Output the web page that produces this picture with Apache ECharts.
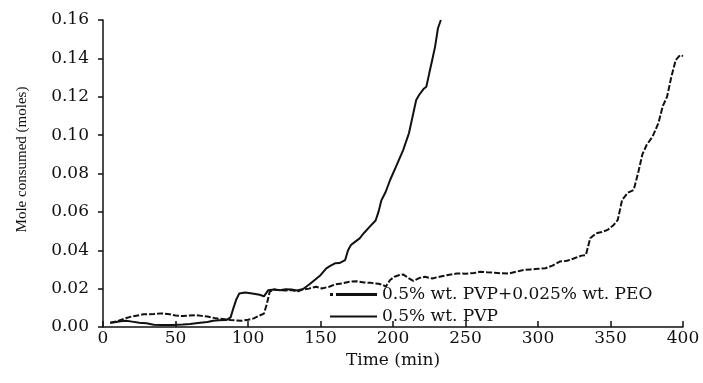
<!DOCTYPE html>
<html>
<head>
<meta charset="utf-8">
<script src="https://cdn.jsdelivr.net/npm/echarts@6/dist/echarts.min.js"></script>
<style>html,body{margin:0;padding:0;background:#fff}#c{width:703px;height:383px}</style>
</head>
<body>
<div id="c"></div>
<script>
// Time (min) and moles consumed
const pvpTime = [5,8,12,16,20,25,30,35,40,48,55,60,67,72,76,80,85,88,90,92,94,98,103,108,111,114,118,122,126,130,134,138,142,146,150,154,157,160,163,167,169,171,174,177,180,184,188,190,192,195,198,202,207,211,214,216,218,221,223,225,227,229,231,233];
const pvpMoles = [0.0022,0.0025,0.0030,0.0032,0.0028,0.0022,0.0019,0.0012,0.0010,0.0010,0.0013,0.0016,0.0022,0.0026,0.0033,0.0035,0.0036,0.0050,0.0100,0.0145,0.0175,0.0180,0.0175,0.0168,0.0160,0.0192,0.0195,0.0192,0.0197,0.0195,0.0190,0.0198,0.0220,0.0245,0.0270,0.0306,0.0320,0.0332,0.0333,0.0349,0.0400,0.0427,0.0445,0.0462,0.0490,0.0523,0.0555,0.0600,0.0660,0.0705,0.0766,0.0835,0.0922,0.1010,0.1114,0.1183,0.1209,0.1240,0.1252,0.1322,0.1390,0.1460,0.1557,0.1600];

const peoTime = [5,10,15,20,28,35,40,46,50,55,60,64,68,72,78,84,88,92,96,100,104,108,111,113,115,118,122,126,130,134,138,142,147,151,156,160,165,170,175,180,185,190,193,195,198,201,204,207,211,214,218,222,227,232,237,244,250,256,260,265,270,275,280,285,290,295,300,305,310,315,320,325,330,333,336,340,344,348,352,355,358,362,366,369,372,375,379,383,386,389,392,395,398,400];
const peoMoles = [0.0022,0.0030,0.0045,0.0055,0.0066,0.0068,0.0071,0.0066,0.0060,0.0057,0.0060,0.0062,0.0058,0.0055,0.0045,0.0040,0.0036,0.0034,0.0033,0.0038,0.0045,0.0060,0.0070,0.0120,0.0184,0.0196,0.0192,0.0190,0.0193,0.0185,0.0196,0.0200,0.0210,0.0201,0.0210,0.0222,0.0227,0.0236,0.0238,0.0232,0.0230,0.0225,0.0219,0.0210,0.0245,0.0262,0.0270,0.0274,0.0253,0.0240,0.0255,0.0262,0.0253,0.0262,0.0270,0.0279,0.0278,0.0281,0.0288,0.0285,0.0283,0.0280,0.0279,0.0288,0.0297,0.0300,0.0303,0.0306,0.0320,0.0341,0.0345,0.0358,0.0372,0.0375,0.0462,0.0488,0.0495,0.0506,0.0530,0.0558,0.0662,0.0700,0.0714,0.0801,0.0900,0.0950,0.0992,0.1062,0.1150,0.1200,0.1305,0.1391,0.1417,0.1412];

const seriesNames = ['0.5% wt. PVP+0.025% wt. PEO', '0.5% wt. PVP'];
const xTitle = 'Time (min)';
const yTitle = 'Mole consumed (moles)';

const pair = (xs, ys) => xs.map((x, i) => [x, ys[i]]);
const serif = 'DejaVu Serif';
const ink = '#111';

const chart = echarts.init(document.getElementById('c'), null, {renderer: 'canvas'});
chart.setOption({
  animation: false,
  backgroundColor: '#fff',
  grid: {left: 103, right: 20, top: 20, bottom: 56},
  legend: {
    orient: 'vertical',
    left: 325,
    top: 281,
    itemWidth: 47,
    itemHeight: 14,
    itemGap: 5,
    textStyle: {fontFamily: serif, fontSize: 17, color: ink},
    data: [
      {name: seriesNames[0], icon: 'path://M0,0H3V3H0Z M6,0H47V3H6Z', itemStyle: {color: ink}},
      {name: seriesNames[1], icon: 'path://M0,0H47V1.8H0Z', itemStyle: {color: ink}}
    ]
  },
  xAxis: {
    type: 'value',
    min: 0, max: 400, interval: 50,
    name: xTitle,
    nameLocation: 'middle',
    nameGap: 22,
    nameTextStyle: {fontFamily: serif, fontSize: 17, color: ink},
    axisLine: {lineStyle: {color: ink, width: 1.5}},
    axisTick: {inside: true, length: 6, lineStyle: {color: ink, width: 1.5}},
    axisLabel: {fontFamily: serif, fontSize: 17, color: ink, margin: 3},
    splitLine: {show: false}
  },
  yAxis: {
    type: 'value',
    min: 0, max: 0.16, interval: 0.02,
    name: yTitle,
    nameLocation: 'middle',
    nameGap: 73,
    nameTextStyle: {fontFamily: 'Liberation Serif', fontSize: 15, color: ink, padding: [0, 0, 0, 28]},
    axisLine: {show: true, lineStyle: {color: ink, width: 1.5}},
    axisTick: {show: true, inside: false, length: 5, lineStyle: {color: ink, width: 1.5}},
    axisLabel: {fontFamily: serif, fontSize: 17, color: ink, margin: 14, formatter: v => v.toFixed(2)},
    splitLine: {show: false}
  },
  series: [
    {
      name: seriesNames[0],
      type: 'line',
      data: pair(peoTime, peoMoles),
      symbol: 'none',
      lineStyle: {color: ink, width: 2, type: [6, 2]},
      itemStyle: {color: ink},
      z: 2
    },
    {
      name: seriesNames[1],
      type: 'line',
      data: pair(pvpTime, pvpMoles),
      symbol: 'none',
      lineStyle: {color: ink, width: 2},
      itemStyle: {color: ink},
      z: 3
    }
  ]
});
</script>
</body>
</html>
